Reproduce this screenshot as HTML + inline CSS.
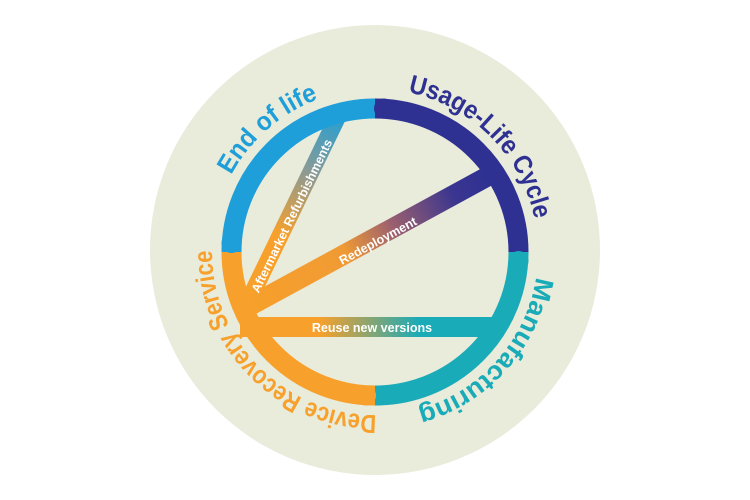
<!DOCTYPE html>
<html><head><style>html,body{margin:0;padding:0;background:#fff}svg{display:block}</style></head>
<body>
<svg width="750" height="500" viewBox="0 0 750 500" xmlns="http://www.w3.org/2000/svg" font-family="Liberation Sans, sans-serif">
<defs>
<linearGradient id="gA" gradientUnits="userSpaceOnUse" x1="252" y1="300" x2="337" y2="118">
<stop offset="0" stop-color="#f7a02b"/><stop offset="0.35" stop-color="#f7a02b"/><stop offset="0.7" stop-color="#8a9a95"/><stop offset="1" stop-color="#2a9fd0"/></linearGradient>
<linearGradient id="gR" gradientUnits="userSpaceOnUse" x1="250" y1="305" x2="490" y2="175">
<stop offset="0" stop-color="#f7a02b"/><stop offset="0.4" stop-color="#f09a35"/><stop offset="0.6" stop-color="#9a5f6f"/><stop offset="0.85" stop-color="#3a3590"/><stop offset="1" stop-color="#2e3192"/></linearGradient>
<linearGradient id="gU" gradientUnits="userSpaceOnUse" x1="245" y1="0" x2="495" y2="0">
<stop offset="0" stop-color="#f7a02b"/><stop offset="0.3" stop-color="#f7a02b"/><stop offset="0.7" stop-color="#19abb8"/><stop offset="1" stop-color="#19abb8"/></linearGradient>
<path id="tp" d="M 538 252 A 163 163 0 1 1 212 252 A 163 163 0 1 1 538 252"/>
</defs>
<circle cx="375" cy="250" r="225" fill="#e9ebdb"/>
<line x1="248" y1="302" x2="339" y2="114" stroke="url(#gA)" stroke-width="17"/>
<line x1="246" y1="308" x2="492" y2="174" stroke="url(#gR)" stroke-width="20"/>
<rect x="240" y="317" width="255" height="20" fill="url(#gU)"/>
<g fill="none" stroke-width="20">
<path d="M 231.5 252 A 143.5 143.5 0 0 1 375 108.5" stroke="#1e9fd9"/>
<path d="M 375 108.5 A 143.5 143.5 0 0 1 518.5 252" stroke="#2e3192"/>
<path d="M 518.5 252 A 143.5 143.5 0 0 1 375 395.5" stroke="#19abb8"/>
<path d="M 375 395.5 A 143.5 143.5 0 0 1 231.5 252" stroke="#f7a02b"/>
</g>
<circle cx="231.5" cy="243" r="10" fill="#1e9fd9"/>
<circle cx="384" cy="108.5" r="10" fill="#2e3192"/>
<circle cx="518.5" cy="261" r="10" fill="#19abb8"/>
<circle cx="366" cy="395.5" r="10" fill="#f7a02b"/>
<g fill="#fff" font-weight="bold" font-size="12.5" text-anchor="middle">
<text transform="translate(292,216) rotate(-64)" dy="4">Aftermarket Refurbishments</text>
<text transform="translate(378,241) rotate(-28.4)" dy="4">Redeployment</text>
<text x="372" y="332">Reuse new versions</text>
</g>
<g font-weight="bold" font-size="26" text-anchor="middle">
<text fill="#1e9fd9"><textPath href="#tp" startOffset="651" textLength="118" lengthAdjust="spacingAndGlyphs">End of life</textPath></text>
<text fill="#2e3192"><textPath href="#tp" startOffset="896" textLength="190" lengthAdjust="spacingAndGlyphs">Usage-Life Cycle</textPath></text>
<text fill="#19abb8"><textPath href="#tp" startOffset="119" textLength="188" lengthAdjust="spacingAndGlyphs">Manufacturing</textPath></text>
<text fill="#f7a02b"><textPath href="#tp" startOffset="384" textLength="259" lengthAdjust="spacingAndGlyphs">Device Recovery Service</textPath></text>
</g>
</svg>
</body></html>
